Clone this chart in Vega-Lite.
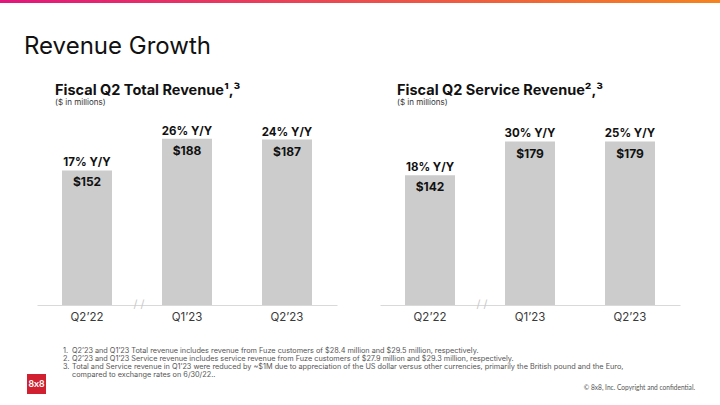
{
  "$schema": "https://vega.github.io/schema/vega-lite/v6.json",
  "background": "white",
  "padding": 0,
  "autosize": {"type": "pad"},
  "config": {"view": {"stroke": null}, "font": "Inter"},
  "spacing": 24,
  "vconcat": [
    {
      "spacing": 24,
      "vconcat": [
        {
          "width": 720,
          "height": 3,
          "data": {"values": [{}]},
          "mark": {"type": "rect", "color": {"gradient": "linear", "x1": 0, "x2": 1, "y1": 0, "y2": 0, "stops": [{"offset": 0, "color": "#e2167c"}, {"offset": 1, "color": "#f5831f"}]}},
          "encoding": {},
          "title": {"text": "Revenue Growth", "orient": "bottom", "anchor": "start", "frame": "group", "dx": 24, "offset": 32, "fontSize": 24, "fontWeight": "normal", "color": "#111111", "baseline": "top"}
        },
        {
          "spacing": 36,
          "hconcat": [
            {
              "width": 1,
              "height": 1,
              "data": {"values": [{}]},
              "mark": {"type": "rect", "opacity": 0},
              "encoding": {}
            },
            {
              "spacing": 43,
              "hconcat": [
                {
                  "width": 300,
                  "height": 200,
                  "title": {"text": "Fiscal Q2 Total Revenue¹,³", "subtitle": "($ in millions)", "anchor": "start", "frame": "group", "dx": 18, "offset": -2.5, "fontSize": 14.5, "fontWeight": "bold", "color": "#111111", "subtitleFontSize": 8, "subtitleColor": "#333333", "subtitlePadding": 0},
                  "data": {"values": [
                    {"quarter": "Q2’22", "revenue": 152, "growth": "17% Y/Y"},
                    {"quarter": "Q1’23", "revenue": 188, "growth": "26% Y/Y"},
                    {"quarter": "Q2’23", "revenue": 187, "growth": "24% Y/Y"}
                  ]},
                  "encoding": {
                    "x": {"field": "quarter", "type": "nominal", "sort": null, "scale": {"paddingInner": 0.5, "paddingOuter": 0.25}, "axis": {"title": null, "labelAngle": 0, "ticks": false, "tickSize": 0, "labelPadding": 6, "labelFontSize": 11.5, "labelColor": "#3a3a3a", "domainColor": "#d9d9d9", "domainWidth": 1, "grid": false}},
                    "y": {"field": "revenue", "type": "quantitative", "scale": {"domain": [0, 226], "nice": false, "zero": true}, "axis": null}
                  },
                  "layer": [
                    {"mark": {"type": "bar", "color": "#cccccc"}},
                    {"mark": {"type": "text", "dy": 16, "baseline": "alphabetic", "fontSize": 12, "fontWeight": "bold", "color": "#111111"}, "encoding": {"text": {"field": "revenue", "format": "$.0f"}}},
                    {"mark": {"type": "text", "dy": -4, "baseline": "alphabetic", "fontSize": 11.5, "fontWeight": "bold", "color": "#111111"}, "encoding": {"text": {"field": "growth"}}},
                    {"transform": [{"filter": "datum.quarter === 'Q2’22'"}], "mark": {"type": "text", "dx": 52, "baseline": "middle", "fontSize": 11, "color": "#c8c8c8"}, "encoding": {"y": {"datum": 0}, "text": {"value": "/ /"}}}
                  ]
                },
                {
                  "width": 300,
                  "height": 200,
                  "title": {"text": "Fiscal Q2 Service Revenue²,³", "subtitle": "($ in millions)", "anchor": "start", "frame": "group", "dx": 17, "offset": -2.5, "fontSize": 14.5, "fontWeight": "bold", "color": "#111111", "subtitleFontSize": 8, "subtitleColor": "#333333", "subtitlePadding": 0},
                  "data": {"values": [
                    {"quarter": "Q2’22", "revenue": 142, "growth": "18% Y/Y"},
                    {"quarter": "Q1’23", "revenue": 179, "growth": "30% Y/Y"},
                    {"quarter": "Q2’23", "revenue": 179, "growth": "25% Y/Y"}
                  ]},
                  "encoding": {
                    "x": {"field": "quarter", "type": "nominal", "sort": null, "scale": {"paddingInner": 0.5, "paddingOuter": 0.25}, "axis": {"title": null, "labelAngle": 0, "ticks": false, "tickSize": 0, "labelPadding": 6, "labelFontSize": 11.5, "labelColor": "#3a3a3a", "domainColor": "#d9d9d9", "domainWidth": 1, "grid": false}},
                    "y": {"field": "revenue", "type": "quantitative", "scale": {"domain": [0, 219], "nice": false, "zero": true}, "axis": null}
                  },
                  "layer": [
                    {"mark": {"type": "bar", "color": "#cccccc"}},
                    {"mark": {"type": "text", "dy": 16, "baseline": "alphabetic", "fontSize": 12, "fontWeight": "bold", "color": "#111111"}, "encoding": {"text": {"field": "revenue", "format": "$.0f"}}},
                    {"mark": {"type": "text", "dy": -4.5, "baseline": "alphabetic", "fontSize": 11.5, "fontWeight": "bold", "color": "#111111"}, "encoding": {"text": {"field": "growth"}}},
                    {"transform": [{"filter": "datum.quarter === 'Q2’22'"}], "mark": {"type": "text", "dx": 52, "baseline": "middle", "fontSize": 11, "color": "#c8c8c8"}, "encoding": {"y": {"datum": 0}, "text": {"value": "/ /"}}}
                  ]
                }
              ]
            }
          ]
        }
      ]
    },
    {
      "spacing": 26,
      "hconcat": [
        {
          "width": 1,
          "height": 1,
          "data": {"values": [{}]},
          "mark": {"type": "rect", "opacity": 0},
          "encoding": {}
        },
        {
          "spacing": 17,
          "hconcat": [
            {
              "spacing": 26,
              "vconcat": [
                {
                  "width": 1,
                  "height": 1,
                  "data": {"values": [{}]},
                  "mark": {"type": "rect", "opacity": 0},
                  "encoding": {}
                },
                {
                  "width": 19,
                  "height": 20,
                  "view": {"fill": "#d1202f", "stroke": null},
                  "data": {"values": [{"name": "8x8"}]},
                  "mark": {"type": "text", "color": "white", "font": "Lato", "fontWeight": "bold", "fontSize": 9.5, "baseline": "middle"},
                  "encoding": {"text": {"field": "name"}}
                }
              ]
            },
            {
              "width": 632,
              "height": {"step": 8},
              "data": {"values": [
                {"line": 1, "num": "1.", "note": "Q2’23 and Q1’23 Total revenue includes revenue from Fuze customers of $28.4 million and $29.5 million, respectively."},
                {"line": 2, "num": "2.", "note": "Q2’23 and Q1’23 Service revenue includes service revenue from Fuze customers  of $27.9 million and $29.3 million, respectively."},
                {"line": 3, "num": "3.", "note": "Total and Service revenue in Q1’23 were reduced by ~$1M due to appreciation of the US dollar versus other currencies, primarily the British pound and the Euro,"},
                {"line": 4, "num": "", "note": "compared to exchange rates on 6/30/22.."}
              ]},
              "title": {"text": "© 8x8, Inc. Copyright and confidential.", "orient": "bottom", "anchor": "end", "frame": "group", "offset": 5.5, "font": "Lato", "fontSize": 6.6, "fontWeight": "normal", "color": "#555555", "baseline": "top"},
              "encoding": {"y": {"field": "line", "type": "ordinal", "axis": null}},
              "layer": [
                {"mark": {"type": "text", "align": "left", "baseline": "middle", "fontSize": 7.3, "color": "#555555"}, "encoding": {"x": {"value": 0}, "text": {"field": "num"}}},
                {"mark": {"type": "text", "align": "left", "baseline": "middle", "dx": 9, "fontSize": 7.3, "color": "#555555"}, "encoding": {"x": {"value": 0}, "text": {"field": "note"}}}
              ]
            }
          ]
        }
      ]
    }
  ]
}
